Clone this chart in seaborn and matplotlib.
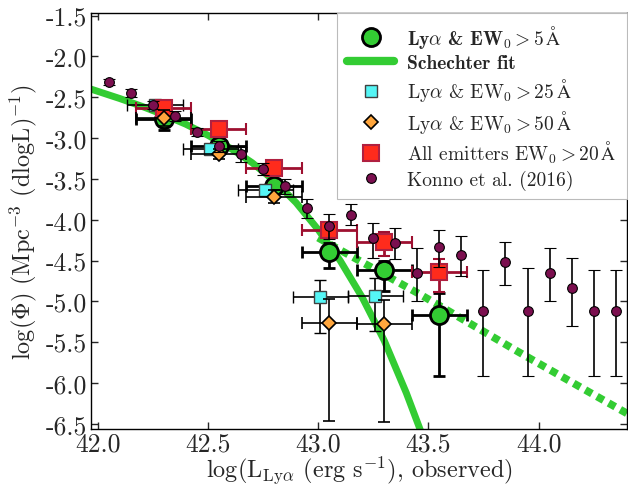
import numpy as np
import pandas as pd
import seaborn as sns
import matplotlib
matplotlib.use('Agg')
import matplotlib.pyplot as plt
from matplotlib.ticker import MultipleLocator, FormatStrFormatter
from matplotlib.lines import Line2D

sns.set_style("ticks")
plt.rcParams['font.family'] = ['cmr10', 'DejaVu Serif']
plt.rcParams['mathtext.fontset'] = 'cm'
plt.rcParams['axes.unicode_minus'] = False

# Schechter fit
fit_x = [41.97, 42.10, 42.20, 42.30, 42.40, 42.50, 42.60, 42.70, 42.80, 42.90,
         43.00, 43.10, 43.20, 43.30, 43.40, 43.47]
fit_y = [-2.40, -2.515, -2.61, -2.715, -2.83, -2.965, -3.12, -3.30, -3.52, -3.79,
         -4.12, -4.50, -4.95, -5.48, -6.12, -6.62]
# extrapolated tail (dotted)
tail_x = [43.00, 43.20, 43.46, 43.60, 43.91, 44.19, 44.42]
tail_y = [-4.22, -4.52, -4.91, -5.13, -5.62, -6.05, -6.40]

# Lya & EW0 > 5 A
ew5_x = [42.30, 42.55, 42.80, 43.05, 43.30, 43.55]
ew5_y = [-2.77, -3.10, -3.59, -4.40, -4.62, -5.16]
ew5_lo = [0.13, 0.05, 0.06, 0.19, 0.25, 0.75]
ew5_hi = [0.13, 0.05, 0.06, 0.11, 0.12, 0.26]

# Lya & EW0 > 25 A
ew25_x = [42.26, 42.51, 42.76, 43.01, 43.26]
ew25_y = [-2.60, -3.13, -3.64, -4.94, -4.93]
ew25_lo = [0.05, 0.05, 0.07, 0.45, 0.43]
ew25_hi = [0.05, 0.05, 0.07, 0.20, 0.22]

# Lya & EW0 > 50 A
ew50_x = [42.30, 42.55, 42.80, 43.05, 43.30]
ew50_y = [-2.75, -3.19, -3.72, -5.27, -5.28]
ew50_lo = [0.10, 0.06, 0.08, 1.20, 1.20]
ew50_hi = [0.10, 0.06, 0.08, 0.30, 0.30]

# All emitters EW0 > 20 A
all_x = [42.30, 42.55, 42.80, 43.05, 43.30, 43.55]
all_y = [-2.63, -2.89, -3.37, -4.13, -4.27, -4.64]
all_lo = [0.04, 0.03, 0.05, 0.08, 0.175, 0.25]
all_hi = [0.04, 0.03, 0.05, 0.08, 0.12, 0.16]

bin_half = 0.125

# Konno et al. (2016)
konno_x = [42.05, 42.15, 42.25, 42.35, 42.45, 42.55, 42.65, 42.75, 42.85, 42.95,
           43.05, 43.15, 43.25, 43.35, 43.45, 43.55, 43.65, 43.75, 43.85, 43.95,
           44.05, 44.15, 44.25, 44.35]
konno_y = [-2.31, -2.45, -2.59, -2.73, -2.93, -3.10, -3.20, -3.38, -3.59, -3.86,
           -4.08, -3.94, -4.22, -4.28, -4.65, -4.33, -4.43, -5.12, -4.52, -5.12,
           -4.65, -4.83, -5.12, -5.12]
konno_lo = [0.04, 0.05, 0.05, 0.06, 0.05, 0.07, 0.09, 0.07, 0.09, 0.12,
            0.15, 0.13, 0.25, 0.20, 0.35, 0.25, 0.26, 0.79, 0.28, 0.79,
            0.35, 0.47, 0.79, 0.79]
konno_hi = [0.04, 0.05, 0.05, 0.06, 0.05, 0.07, 0.09, 0.07, 0.09, 0.12,
            0.15, 0.13, 0.18, 0.18, 0.30, 0.20, 0.23, 0.51, 0.25, 0.53,
            0.30, 0.36, 0.50, 0.50]

colors = {'green': '#33CC33', 'cyan': '#55F5F5', 'orange': '#FFA63D',
          'red': '#FF2B1C', 'darkred': '#9E1030', 'purple': '#7B0F4F'}

fig = plt.figure(figsize=(6.28, 4.89), dpi=100)
ax = fig.add_axes([0.145, 0.121, 0.853, 0.850])

# Schechter fit and its tail
fit = pd.DataFrame({'x': fit_x, 'y': fit_y})
tail = pd.DataFrame({'x': tail_x, 'y': tail_y})
sns.lineplot(data=fit, x='x', y='y', ax=ax, color=colors['green'], lw=5,
             sort=False, zorder=1)
sns.lineplot(data=tail, x='x', y='y', ax=ax, color=colors['green'], lw=5.5,
             sort=False, zorder=1)
ax.lines[-1].set_dashes([1.0, 0.75])

# data points
ax.errorbar(ew5_x, ew5_y, xerr=bin_half, yerr=[ew5_lo, ew5_hi], fmt='o',
            color=colors['green'], mec='black', mew=2, ms=13, ecolor='black',
            elinewidth=2, capsize=4, capthick=2, zorder=3)
ax.errorbar(ew25_x, ew25_y, xerr=bin_half, yerr=[ew25_lo, ew25_hi], fmt='s',
            color=colors['cyan'], mec='#404040', mew=1, ms=8, ecolor='black',
            elinewidth=1.2, capsize=4, capthick=1.5, zorder=4)
ax.errorbar(all_x, all_y, xerr=bin_half, yerr=[all_lo, all_hi], fmt='s',
            color=colors['red'], mec='#B02040', mew=1.5, ms=11, ecolor=colors['darkred'],
            elinewidth=2, capsize=4, capthick=2, zorder=4)
ax.errorbar(ew50_x, ew50_y, xerr=bin_half, yerr=[ew50_lo, ew50_hi], fmt='D',
            color=colors['orange'], mec='black', mew=1.2, ms=7, ecolor='black',
            elinewidth=1.2, capsize=4, capthick=1.5, zorder=5)
ax.errorbar(konno_x, konno_y, yerr=[konno_lo, konno_hi], fmt='o',
            color=colors['purple'], mec='black', mew=0.8, ms=7, ecolor='black',
            elinewidth=1.2, capsize=4, capthick=1.5, zorder=6)

ax.set_xlim(41.97, 44.4)
ax.set_ylim(-6.56, -1.47)
ax.xaxis.set_major_locator(MultipleLocator(0.5))
ax.yaxis.set_major_locator(MultipleLocator(0.5))
ax.xaxis.set_major_formatter(FormatStrFormatter('%.1f'))
ax.yaxis.set_major_formatter(FormatStrFormatter('%.1f'))
ax.tick_params(direction='in', top=True, right=True, length=5, width=1,
               labelsize=18.5, pad=3)
ax.tick_params(axis='x', pad=2)
for s in ax.spines.values():
    s.set_linewidth(1)
    s.set_color('black')

ax.set_xlabel(r'log(L$_{\rm Ly\alpha}$ (erg s$^{-1}$), observed)', fontsize=17.5, labelpad=-1)
ax.set_ylabel(r'log($\Phi$) (Mpc$^{-3}$ (dlogL)$^{-1}$)', fontsize=17.5, labelpad=5)

# legend
handles = [
    Line2D([], [], ls='none', marker='o', ms=13, mfc=colors['green'], mec='black', mew=2),
    Line2D([], [], color=colors['green'], lw=6),
    Line2D([], [], ls='none', marker='s', ms=8, mfc=colors['cyan'], mec='#404040', mew=1),
    Line2D([], [], ls='none', marker='D', ms=7, mfc=colors['orange'], mec='black', mew=1.2),
    Line2D([], [], ls='none', marker='s', ms=11, mfc=colors['red'], mec='#B02040', mew=1.5),
    Line2D([], [], ls='none', marker='o', ms=7, mfc=colors['purple'], mec='black', mew=0.8),
]
labels = [r'Ly$\alpha$ & EW$_0>5\,\mathrm{\AA}$',
          'Schechter fit',
          r'Ly$\alpha$ & EW$_0>25\,\mathrm{\AA}$',
          r'Ly$\alpha$ & EW$_0>50\,\mathrm{\AA}$',
          r'All emitters EW$_0>20\,\mathrm{\AA}$',
          'Konno et al. (2016)']
leg = ax.legend(handles, labels, loc='upper right', fontsize=14, frameon=True,
                fancybox=False, edgecolor='#BBBBBB', framealpha=1,
                borderaxespad=0, handlelength=2.4, labelspacing=0.22,
                handletextpad=0.7, borderpad=0.5)
leg.get_frame().set_linewidth(0.8)
for t in leg.get_texts()[:2]:
    t.set_fontfamily(['cmb10', 'DejaVu Serif'])

fig.savefig('out.png', dpi=100)
